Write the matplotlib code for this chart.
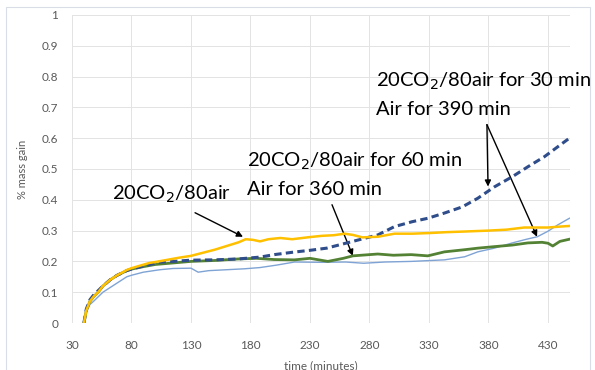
import matplotlib.pyplot as plt
from matplotlib.patches import Rectangle

plt.rcParams["font.family"] = ["Lato", "DejaVu Sans"]

# ── data ──────────────────────────────────────────────────────────────────────
# 20CO2/80air (continuous)
t_yellow = [40, 42, 45, 48, 52, 56, 62, 68, 76, 80, 88, 95, 100, 110, 120, 130, 140,
            150, 160, 170, 176, 182, 188, 195, 205, 215, 230, 240, 250, 259, 266,
            274, 287, 301, 316, 330, 345, 360, 380, 395, 410, 420, 430, 440, 448]
y_yellow = [0.0, 0.04, 0.07, 0.085, 0.10, 0.12, 0.14, 0.155, 0.172, 0.178, 0.187, 0.195,
            0.198, 0.205, 0.212, 0.218, 0.228, 0.238, 0.25, 0.262, 0.272, 0.27, 0.265,
            0.272, 0.276, 0.272, 0.279, 0.283, 0.285, 0.29, 0.286, 0.278, 0.28, 0.29,
            0.29, 0.292, 0.295, 0.297, 0.30, 0.303, 0.31, 0.31, 0.31, 0.313, 0.315]

# 20CO2/80air for 30 min, air for 390 min (run 1, dashed)
t_dash = [40, 42, 45, 48, 52, 56, 62, 68, 76, 80, 90, 104, 115, 130, 150, 170, 188,
          200, 216, 230, 244, 266, 287, 301, 316, 329, 343, 358, 371, 385, 400, 413,
          427, 442, 448]
y_dash = [0.0, 0.045, 0.075, 0.09, 0.105, 0.12, 0.14, 0.155, 0.17, 0.175, 0.185, 0.198,
          0.2, 0.204, 0.205, 0.208, 0.214, 0.222, 0.23, 0.236, 0.243, 0.265, 0.286,
          0.313, 0.329, 0.34, 0.357, 0.377, 0.405, 0.442, 0.475, 0.507, 0.54, 0.583,
          0.60]

# 20CO2/80air for 30 min, air for 390 min (run 2, thin)
t_blue = [40, 42, 45, 48, 52, 56, 62, 68, 76, 80, 90, 104, 115, 130, 136, 145, 160,
          175, 188, 202, 217, 240, 260, 275, 293, 315, 343, 360, 371, 385, 400, 412,
          421, 430, 438, 448]
y_blue = [0.0, 0.035, 0.06, 0.07, 0.085, 0.10, 0.115, 0.13, 0.15, 0.155, 0.165, 0.173,
          0.177, 0.178, 0.165, 0.17, 0.173, 0.176, 0.18, 0.188, 0.198, 0.197, 0.198,
          0.194, 0.198, 0.2, 0.205, 0.215, 0.231, 0.243, 0.26, 0.272, 0.28, 0.298,
          0.318, 0.34]

# 20CO2/80air for 60 min, air for 360 min
t_green = [40, 42, 45, 48, 52, 56, 62, 68, 76, 80, 90, 100, 115, 130, 150, 170, 185,
           200, 217, 230, 245, 258, 266, 287, 300, 315, 329, 343, 360, 371, 385, 400,
           413, 425, 430, 434, 440, 448]
y_green = [0.0, 0.04, 0.07, 0.085, 0.10, 0.12, 0.14, 0.155, 0.17, 0.175, 0.183, 0.19,
           0.195, 0.2, 0.203, 0.208, 0.21, 0.206, 0.205, 0.21, 0.2, 0.21, 0.218, 0.224,
           0.22, 0.222, 0.218, 0.231, 0.238, 0.243, 0.248, 0.253, 0.26, 0.262, 0.259,
           0.25, 0.265, 0.272]

X_TICKS = [30, 80, 130, 180, 230, 280, 330, 380, 430]
Y_TICKS = [0, 0.1, 0.2, 0.3, 0.4, 0.5, 0.6, 0.7, 0.8, 0.9, 1]
Y_TICK_LABELS = ["0", "0.1", "0.2", "0.3", "0.4", "0.5", "0.6", "0.7", "0.8", "0.9", "1"]

# ── figure ────────────────────────────────────────────────────────────────────
W, H = 595, 370
fig = plt.figure(figsize=(W / 100, H / 100), dpi=100)
# chart-area border; its bottom edge is cut off in the original
fig.patches.append(Rectangle((6 / W, -20 / H), 584 / W, 383 / H, transform=fig.transFigure,
                             fill=False, edgecolor="#D9DEE6", lw=0.8))

ax = fig.add_axes([72 / W, 1 - 323 / H, (570 - 72) / W, (323 - 15) / H])
ax.set_xlim(30, 448.5)
ax.set_ylim(0, 1)

ax.plot(t_blue, y_blue, color="#7FA3D4", lw=1.0, zorder=3)
ax.plot(t_green, y_green, color="#548235", lw=2.0, zorder=4)
ax.plot(t_dash, y_dash, color="#2F4D8A", lw=2.2, dashes=(2.4, 1.4), zorder=5)
ax.plot(t_yellow, y_yellow, color="#FFC000", lw=1.8, zorder=6)

ax.set_xticks(X_TICKS)
ax.set_yticks(Y_TICKS)
ax.set_yticklabels(Y_TICK_LABELS)
ax.grid(True, color="#E3E3E3", lw=0.7)
ax.set_axisbelow(True)
for s in ax.spines.values():
    s.set_visible(False)
ax.tick_params(length=0, colors="#595959", labelsize=8.5)
ax.tick_params(axis="x", pad=12)
ax.tick_params(axis="y", pad=10)
ax.set_xlabel("time (minutes)", color="#595959", fontsize=8.5, labelpad=7)
ax.set_ylabel("% mass gain", color="#595959", fontsize=8, labelpad=10)

# ── annotations ───────────────────────────────────────────────────────────────
arrow = dict(arrowstyle="-|>", color="black", lw=1.0, mutation_scale=9, shrinkA=0, shrinkB=0)
tfont = dict(fontsize=14.5, color="black", ha="left", va="center")

ax.text(63.5, 0.417, "20CO$_2$/80air", **tfont)
ax.annotate("", xy=(173.7, 0.28), xytext=(133.4, 0.358), arrowprops=arrow)

ax.text(177, 0.524, "20CO$_2$/80air for 60 min", **tfont)
ax.text(177, 0.435, "Air for 360 min", **tfont)
ax.annotate("", xy=(266, 0.218), xytext=(248.5, 0.384), arrowprops=arrow)

ax.text(285.5, 0.784, "20CO$_2$/80air for 30 min", **tfont)
ax.text(285.5, 0.692, "Air for 390 min", **tfont)
ax.annotate("", xy=(379.6, 0.443), xytext=(378.7, 0.644), arrowprops=arrow)
ax.annotate("", xy=(420.8, 0.28), xytext=(378.7, 0.644), arrowprops=arrow)

fig.savefig("out.png", dpi=100)
